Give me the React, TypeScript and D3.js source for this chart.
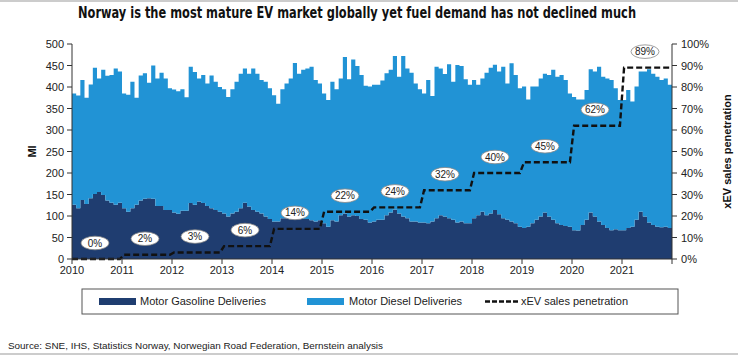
import React from "react";
import * as d3 from "d3";

const years = [2010, 2011, 2012, 2013, 2014, 2015, 2016, 2017, 2018, 2019, 2020, 2021];

// Monthly deliveries (Ml), Jan 2010 - Dec 2021
const gasoline = [
  126, 118, 137, 128, 141, 151, 156, 149, 136, 131, 126, 131,
  118, 110, 118, 126, 136, 140, 141, 140, 123, 123, 114, 114,
  108, 105, 112, 112, 130, 126, 134, 130, 123, 118, 114, 110,
  106, 99, 106, 110, 118, 131, 122, 114, 110, 106, 99, 93,
  87, 87, 95, 95, 95, 97, 95, 93, 93, 90, 87, 90,
  83, 75, 90, 87, 102, 106, 99, 102, 100, 93, 91, 85,
  87, 91, 91, 102, 108, 115, 106, 99, 95, 87, 87, 85,
  85, 83, 87, 95, 102, 99, 95, 91, 85, 87, 83, 83,
  95, 102, 110, 102, 106, 114, 104, 95, 91, 87, 83, 75,
  72, 75, 83, 91, 99, 108, 99, 91, 83, 79, 77, 75,
  67, 66, 79, 91, 108, 99, 87, 79, 72, 67, 69, 67,
  67, 72, 75, 91, 110, 99, 85, 79, 75, 74, 75, 72,
];

const diesel = [
  259, 262, 279, 247, 265, 294, 264, 291, 290, 297, 317, 305,
  267, 272, 294, 249, 291, 292, 269, 310, 297, 310, 306, 283,
  286, 285, 283, 264, 317, 309, 286, 298, 285, 309, 298, 290,
  289, 278, 289, 302, 313, 312, 309, 329, 321, 310, 313, 304,
  294, 274, 300, 313, 325, 359, 336, 347, 350, 357, 329, 318,
  302, 295, 322, 308, 318, 364, 319, 362, 349, 335, 312, 316,
  318, 314, 324, 330, 332, 357, 318, 373, 348, 346, 321, 310,
  300, 333, 292, 352, 341, 331, 358, 321, 366, 362, 335, 322,
  321, 303, 310, 331, 339, 338, 332, 352, 317, 368, 345, 322,
  329, 296, 318, 310, 321, 323, 329, 349, 341, 349, 339, 310,
  310, 305, 292, 302, 333, 337, 360, 345, 348, 349, 328, 303,
  303, 321, 291, 310, 326, 337, 356, 352, 349, 342, 345, 333,
];

// Annual xEV sales penetration (%)
const xevPenetration = [0, 2, 3, 6, 14, 22, 24, 32, 40, 45, 62, 89];

const leftTicks = [0, 50, 100, 150, 200, 250, 300, 350, 400, 450, 500];
const rightTicks = [0, 10, 20, 30, 40, 50, 60, 70, 80, 90, 100];

const DARK = "#1F3D70";
const LIGHT = "#2193D5";
const FONT = "'Liberation Sans', Arial, sans-serif";

export default function App() {
  const W = 738;
  const H = 359;
  const x0 = 72;
  const x1 = 672;
  const yTop = 44;
  const yBot = 259;
  const nMonths = gasoline.length;

  const x = d3.scaleLinear().domain([0, nMonths]).range([x0, x1]);
  const y = d3.scaleLinear().domain([0, 500]).range([yBot, yTop]);
  const yr = d3.scaleLinear().domain([0, 100]).range([yBot, yTop]);

  const rows = gasoline.map((g, i) => ({ i, gasoline: g, diesel: diesel[i] }));
  const stack = d3.stack<any>().keys(["gasoline", "diesel"]);
  const series = stack(rows);

  const area = d3
    .area<any>()
    .curve(d3.curveStepAfter)
    .x((d: any) => x(d.i))
    .y0((d: any) => y(d.y0))
    .y1((d: any) => y(d.y1));

  const areaPaths = series.map((s) => {
    const pts = s.map((d: any) => ({ i: d.data.i, y0: d[0], y1: d[1] }));
    const last = pts[pts.length - 1];
    pts.push({ i: nMonths, y0: last.y0, y1: last.y1 });
    return area(pts) as string;
  });

  const linePts: [number, number][] = [];
  xevPenetration.forEach((v, k) => {
    if (k === 0) linePts.push([0, v]);
    linePts.push([k * 12 + 0.5, v]);
    linePts.push([k * 12 + 11.5, v]);
    if (k === xevPenetration.length - 1) linePts.push([nMonths, v]);
  });
  const line = d3
    .line<[number, number]>()
    .x((d) => x(d[0]))
    .y((d) => yr(d[1]));

  return (
    <svg
      width={W}
      height={H}
      style={{ position: "absolute", left: 0, top: 0, background: "#fff" }}
      fontFamily={FONT}
    >
      <rect x={0} y={0} width={W} height={H} fill="#fff" />
      <line x1={0} x2={W} y1={1} y2={1} stroke="#bbb" strokeWidth={1.5} />
      <text
        x={78}
        y={18}
        fontFamily="'Liberation Sans Narrow', 'DejaVu Sans Condensed', Arial, sans-serif"
        fontWeight="bold"
        fontSize={15}
        textLength={558}
        lengthAdjust="spacingAndGlyphs"
        fill="#111"
      >
        Norway is the most mature EV market globally yet fuel demand has not declined much
      </text>

      {/* stacked areas */}
      <path d={areaPaths[0]} fill={DARK} />
      <path d={areaPaths[1]} fill={LIGHT} />

      {/* xEV penetration line */}
      <path
        d={line(linePts) as string}
        fill="none"
        stroke="#111"
        strokeWidth={2.4}
        strokeDasharray="6,3"
      />

      {/* penetration labels */}
      {xevPenetration.map((v, k) => {
        const cx = x(k * 12 + 6) - 2;
        const cy = yr(v) - 16;
        return (
          <g key={k}>
            <ellipse cx={cx} cy={cy} rx={14} ry={6.8} fill="#fff" stroke="#888" strokeWidth={0.8} />
            <text x={cx} y={cy + 3.5} textAnchor="middle" fontSize={10} fill="#222">
              {v}%
            </text>
          </g>
        );
      })}

      {/* left axis */}
      <line x1={x0} x2={x0} y1={yTop} y2={yBot} stroke="#333" strokeWidth={1} />
      {leftTicks.map((t) => (
        <g key={t}>
          <line x1={x0 - 5} x2={x0} y1={y(t)} y2={y(t)} stroke="#333" />
          <text x={x0 - 8} y={y(t) + 4} textAnchor="end" fontSize={11} fill="#222">
            {t}
          </text>
        </g>
      ))}
      <text
        transform={`translate(36,${y(250)}) rotate(-90)`}
        textAnchor="middle"
        fontSize={11}
        fontWeight="bold"
        fill="#111"
      >
        Ml
      </text>

      {/* right axis */}
      <line x1={x1} x2={x1} y1={yTop} y2={yBot} stroke="#333" strokeWidth={1} />
      {rightTicks.map((t) => (
        <g key={t}>
          <line x1={x1} x2={x1 + 5} y1={yr(t)} y2={yr(t)} stroke="#333" />
          <text x={x1 + 9} y={yr(t) + 4} textAnchor="start" fontSize={11} fill="#222">
            {t}%
          </text>
        </g>
      ))}
      <text
        transform={`translate(731,${(yTop + yBot) / 2}) rotate(-90)`}
        textAnchor="middle"
        fontSize={11}
        fontWeight="bold"
        fill="#111"
      >
        xEV sales penetration
      </text>

      {/* x axis */}
      <line x1={x0} x2={x1} y1={yBot} y2={yBot} stroke="#333" strokeWidth={1} />
      {years.map((yv, k) => (
        <g key={yv}>
          <line x1={x(k * 12)} x2={x(k * 12)} y1={yBot} y2={yBot + 5} stroke="#333" />
          <text x={x(k * 12)} y={yBot + 15} textAnchor="middle" fontSize={11} fill="#222">
            {yv}
          </text>
        </g>
      ))}
      <line x1={x(nMonths)} x2={x(nMonths)} y1={yBot} y2={yBot + 5} stroke="#333" />

      {/* legend */}
      <rect x={82} y={289} width={596} height={25} fill="#fff" stroke="#555" strokeWidth={1} />
      <rect x={99} y={298} width={37} height={7} fill={DARK} />
      <text x={140} y={305} fontSize={11} fill="#222">
        Motor Gasoline Deliveries
      </text>
      <rect x={307} y={298} width={37} height={7} fill={LIGHT} />
      <text x={349} y={305} fontSize={11} fill="#222">
        Motor Diesel Deliveries
      </text>
      <line x1={485} x2={518} y1={301.5} y2={301.5} stroke="#111" strokeWidth={2.4} strokeDasharray="5,2" />
      <text x={521} y={305} fontSize={11} fill="#222">
        xEV sales penetration
      </text>

      {/* source */}
      <text x={8} y={349} fontSize={9.5} fill="#222" textLength={375} lengthAdjust="spacingAndGlyphs">
        Source: SNE, IHS, Statistics Norway, Norwegian Road Federation, Bernstein analysis
      </text>
      <line x1={0} x2={W} y1={354} y2={354} stroke="#999" strokeWidth={1} />
    </svg>
  );
}
